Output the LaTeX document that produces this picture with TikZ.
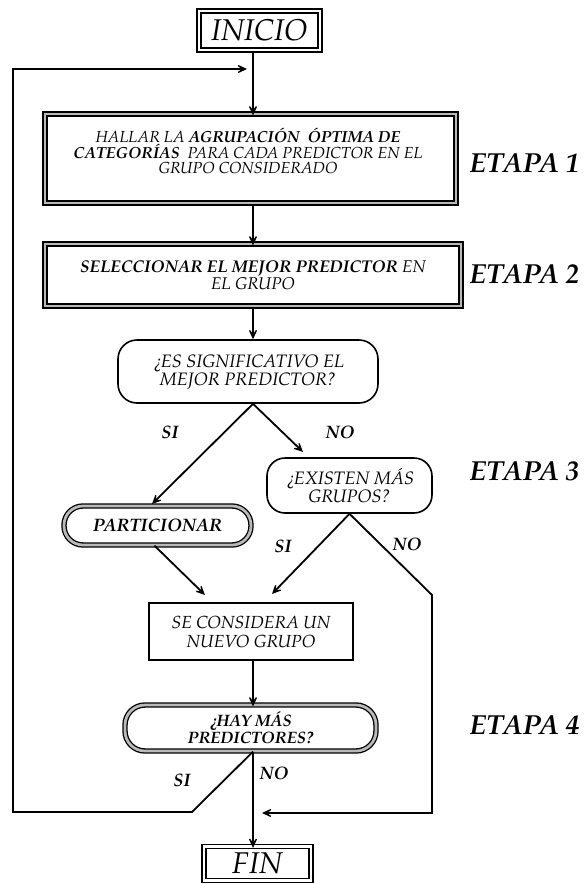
\documentclass[tikz,border=0pt]{standalone}
\usepackage{fontspec}
\setmainfont{TeX Gyre Pagella}
\usetikzlibrary{arrows.meta}
\begin{document}
\begin{tikzpicture}[x=1pt,y=-1pt,
  ln/.style={line width=1.8pt},
  tip/.style={-{Stealth[length=15pt,width=14pt,inset=10pt]}},
  arr/.style={ln,tip},
  graydbl/.style={draw=black,line width=1.3pt,double=gray!55,double distance=2.8pt,inner sep=0pt,align=center},
  whitedbl/.style={draw=black,line width=1.3pt,double=white,double distance=2.6pt,inner sep=0pt,align=center},
  single/.style={draw=black,line width=1.6pt,inner sep=0pt,align=center},
  lbl/.style={font=\fontsize{18}{18}\selectfont\bfseries\itshape},
  etapa/.style={font=\fontsize{27.5}{28}\selectfont\bfseries\itshape,anchor=west}]
\useasboundingbox (0,0) rectangle (587,884);
\coordinate (ax) at (253,0);
% nodes
\node[whitedbl,minimum width=121pt,minimum height=39pt,font=\fontsize{30}{30}\selectfont\itshape] (ini) at (259.5,30.5) {INICIO};
\node[graydbl,minimum width=411pt,minimum height=89pt] (b1) at (250.5,158.5) {};
\node[align=center,inner sep=0pt,font=\fontsize{16}{14.5}\selectfont\itshape] (b1t) at (248,151)
  {HALLAR LA \textbf{AGRUPACIÓN\ \ ÓPTIMA DE}\\ \textbf{CATEGORÍAS}\ \ PARA CADA PREDICTOR EN EL\\ GRUPO CONSIDERADO};
\node[graydbl,minimum width=416pt,minimum height=62pt,font=\fontsize{17}{17}\selectfont\itshape] (b2) at (253,275)
  {\textbf{SELECCIONAR EL MEJOR PREDICTOR} EN\\ EL GRUPO};
\node[single,rounded corners=19pt,minimum width=260pt,minimum height=63pt,font=\fontsize{18}{18}\selectfont\itshape] (d1) at (248,371.5)
  {¿ES SIGNIFICATIVO EL\\ MEJOR PREDICTOR?};
\node[single,rounded corners=18pt,minimum width=165pt,minimum height=55pt,font=\fontsize{18}{18}\selectfont\itshape] (d2) at (349.5,485.5)
  {¿EXISTEN MÁS\\ GRUPOS?};
\node[graydbl,rounded corners=19pt,minimum width=187pt,minimum height=39pt,font=\fontsize{18}{18}\selectfont\bfseries\itshape] (part) at (157.5,525.5)
  {PARTICIONAR};
\node[single,minimum width=204pt,minimum height=57pt,font=\fontsize{17.5}{19}\selectfont\itshape] (nuevo) at (251,631.5)
  {SE CONSIDERA UN\\ NUEVO GRUPO};
\node[graydbl,rounded corners=20pt,minimum width=251pt,minimum height=46pt,font=\fontsize{16.5}{17.5}\selectfont\bfseries\itshape] (hm) at (250.5,728)
  {¿HAY MÁS\\ PREDICTORES?};
\node[whitedbl,minimum width=107pt,minimum height=34pt,font=\fontsize{30}{30}\selectfont\itshape] (fin) at (257.5,863.5) {FIN};
% etapas
\node[etapa] (e1) at (466,163) {ETAPA 1};
\node[etapa] (e2) at (466,274) {ETAPA 2};
\node[etapa] (e3) at (466,471) {ETAPA 3};
\node[etapa] (e4) at (466,725) {ETAPA 4};
% coordinates
\coordinate (c1) at (192,812);
\coordinate (c2) at (13,812);
\coordinate (c3) at (13,69);
\coordinate (c4) at (247,69);
\coordinate (noTip) at (303,452);
\coordinate (partTip) at (152,504);
\coordinate (pTip) at (205,595);
\coordinate (sTip) at (272,594);
\coordinate (n1) at (432,595);
\coordinate (n2) at (432,813);
\coordinate (n3) at (262,813);
% connectors
\draw[arr] (ini.south -| ax) -- ([yshift=-2pt]b1.north -| ax);
\draw[arr] (b1.south -| ax) -- ([yshift=-2pt]b2.north -| ax);
\draw[arr] (b2.south -| ax) -- (d1.north -| ax);
\draw[arr] (d1.south -| ax) -- (partTip);
\draw[arr] (d1.south -| ax) -- (noTip);
\draw[arr] ([xshift=-3pt]part.south) -- (pTip);
\draw[arr] (d2.south) -- (sTip);
\draw[arr] (d2.south) -- (n1) -- (n2) -- (n3);
\draw[arr] (nuevo.south -| ax) -- ([yshift=-2pt]hm.north -| ax);
\draw[arr] (hm.south -| ax) -- ([yshift=-2pt]fin.north -| ax);
\draw[arr] (hm.south -| ax) -- (c1) -- (c2) -- (c3) -- (c4);
% labels
\node[lbl] (l1) at (170,432) {SI};
\node[lbl] (l2) at (340,432) {NO};
\node[lbl] (l3) at (283,546) {SI};
\node[lbl] (l4) at (407,544) {NO};
\node[lbl] (l5) at (182,780) {SI};
\node[lbl] (l6) at (274,773) {NO};
\end{tikzpicture}
\end{document}
